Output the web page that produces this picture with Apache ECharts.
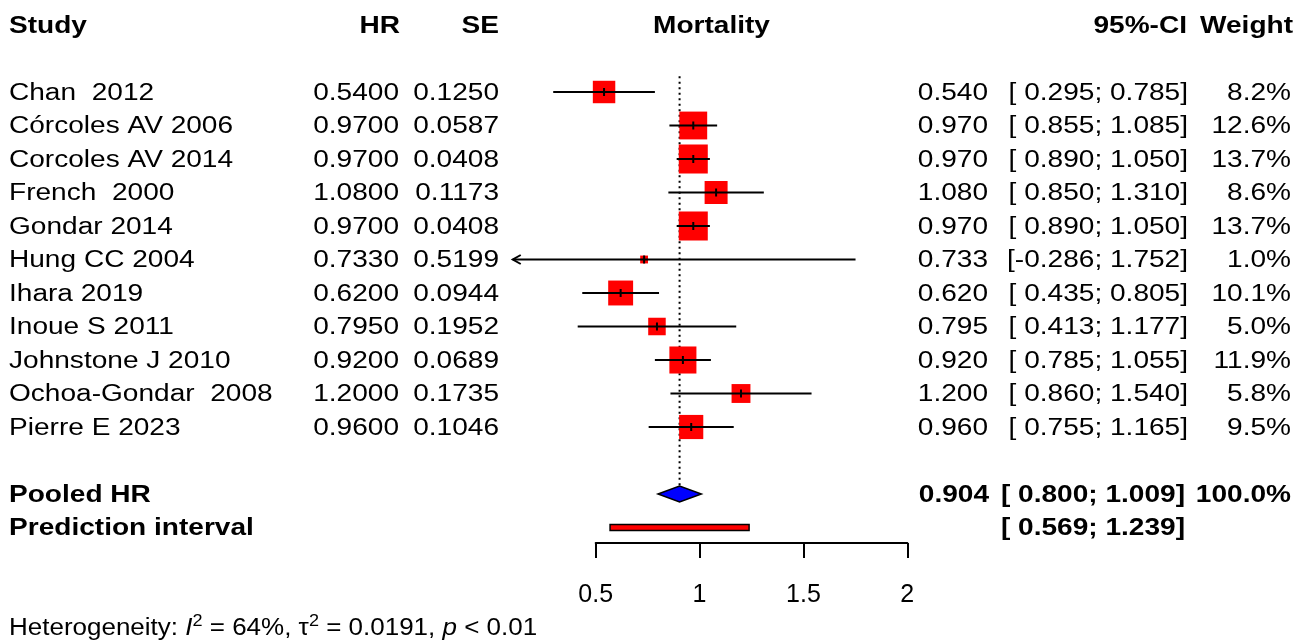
<!DOCTYPE html>
<html>
<head>
<meta charset="utf-8">
<title>Mortality forest plot</title>
<script src="https://cdn.jsdelivr.net/npm/echarts@6/dist/echarts.min.js"></script>
<style>
    html, body { margin: 0; padding: 0; background: #fff; }
    #forest { width: 1308px; height: 643px; }
</style>
</head>
<body>
<div id="forest"></div>
<script>
// study data
var studies = ['Chan  2012', 'Córcoles AV 2006', 'Corcoles AV 2014', 'French  2000', 'Gondar 2014',
    'Hung CC 2004', 'Ihara 2019', 'Inoue S 2011', 'Johnstone J 2010', 'Ochoa-Gondar  2008', 'Pierre E 2023'];
var hr = [0.54, 0.97, 0.97, 1.08, 0.97, 0.733, 0.62, 0.795, 0.92, 1.2, 0.96];
var se = [0.1250, 0.0587, 0.0408, 0.1173, 0.0408, 0.5199, 0.0944, 0.1952, 0.0689, 0.1735, 0.1046];
var ciLower = [0.295, 0.855, 0.890, 0.850, 0.890, -0.286, 0.435, 0.413, 0.785, 0.860, 0.755];
var ciUpper = [0.785, 1.085, 1.050, 1.310, 1.050, 1.752, 0.805, 1.177, 1.055, 1.540, 1.165];
var weights = [8.2, 12.6, 13.7, 8.6, 13.7, 1.0, 10.1, 5.0, 11.9, 5.8, 9.5];

// pooled estimate [est, lower, upper], prediction interval, total weight
var pooled = [0.904, 0.800, 1.009];
var predInterval = [0.569, 1.239];
var pooledWeight = 100.0;

// axis ticks
var xTicks = [0.5, 1, 1.5, 2];

var heteroI2 = '64%', heteroTau2 = '0.0191', heteroP = '0.01';

var FONT = "'Liberation Sans', Arial, Helvetica, sans-serif";
var SX = 1.22;        // text in the picture is a bit wider than plain Arial
var X_CLIP = 0.1;     // left limit of the plot region (arrow drawn there)
var ROW_POOLED = 12, ROW_PRED = 13;

function ciText(lo, hi) {
    return '[' + (lo < 0 ? '' : ' ') + lo.toFixed(3) + '; ' + hi.toFixed(3) + ']';
}

// table rows: [row, dy, cells]; cell = [x, text, align, bold]
var tableRows = [];
tableRows.push([-2, 2, [
    [9, 'Study', 'left', 1], [400, 'HR', 'right', 1], [499, 'SE', 'right', 1],
    [711.5, 'Mortality', 'center', 1], [1187, '95%-CI', 'right', 1], [1293, 'Weight', 'right', 1]
]]);
for (var i = 0; i < studies.length; i++) {
    tableRows.push([i, 1.5, [
        [9, studies[i], 'left', 0],
        [399, hr[i].toFixed(4), 'right', 0],
        [499, se[i].toFixed(4), 'right', 0],
        [988, hr[i].toFixed(3), 'right', 0],
        [1188, ciText(ciLower[i], ciUpper[i]), 'right', 0],
        [1291, weights[i].toFixed(1) + '%', 'right', 0]
    ]]);
}
tableRows.push([ROW_POOLED, 1.5, [
    [9, 'Pooled HR', 'left', 1],
    [989, pooled[0].toFixed(3), 'right', 1],
    [1185, ciText(pooled[1], pooled[2]), 'right', 1],
    [1291, pooledWeight.toFixed(1) + '%', 'right', 1]
]]);
tableRows.push([ROW_PRED, 1.5, [
    [9, 'Prediction interval', 'left', 1],
    [1185, ciText(predInterval[0], predInterval[1]), 'right', 1]
]]);

function txt(x, y, s, align, bold) {
    return {
        type: 'text', x: x, y: y, scaleX: SX,
        style: {
            text: s, fontSize: 23, fontFamily: FONT, fontWeight: bold ? 'bold' : 'normal',
            fill: '#000', align: align, verticalAlign: 'middle'
        }
    };
}

var dom = document.getElementById('forest');
var myChart = echarts.init(dom);
var option = null;

option = {
    animation: false,
    backgroundColor: '#fff',
    grid: [
        {left: 492, width: 518.75, top: 25, height: 603},
        {left: 595.7, width: 311.6, top: 533, height: 10}
    ],
    xAxis: [
        {gridIndex: 0, type: 'value', min: 0, max: 2.5, show: false},
        {
            gridIndex: 1, type: 'value', min: xTicks[0], max: xTicks[xTicks.length - 1], interval: 0.5,
            axisLine: {show: true, lineStyle: {color: '#000', width: 2}},
            axisTick: {show: true, length: 15, lineStyle: {color: '#000', width: 2}},
            axisLabel: {margin: 40, fontSize: 25, color: '#000', fontFamily: FONT},
            splitLine: {show: false}
        }
    ],
    yAxis: [
        {gridIndex: 0, type: 'value', min: -2, max: 16, inverse: true, show: false},
        {gridIndex: 1, type: 'value', show: false}
    ],
    series: [
        {
            // dotted line at pooled estimate
            type: 'custom', xAxisIndex: 0, yAxisIndex: 0,
            data: [[pooled[0], -0.47]],
            encode: {x: 0, y: 1},
            renderItem: function (params, api) {
                var a = api.coord([api.value(0), api.value(1)]);
                var b = api.coord([api.value(0), ROW_POOLED]);
                return {
                    type: 'line', shape: {x1: a[0], y1: a[1], x2: b[0], y2: b[1]},
                    style: {stroke: '#000', lineWidth: 2, lineDash: [2, 3.5]}
                };
            }
        },
        {
            // studies: square, CI line, centre tick
            type: 'custom', xAxisIndex: 0, yAxisIndex: 0,
            data: studies.map(function (s, i) {
                return [hr[i], i, ciLower[i], ciUpper[i], weights[i]];
            }),
            encode: {x: 0, y: 1},
            renderItem: function (params, api) {
                var est = api.value(0), row = api.value(1);
                var lo = api.value(2), hi = api.value(3), w = api.value(4);
                var c = api.coord([est, row]);
                var y = c[1];
                var xl = api.coord([Math.max(lo, X_CLIP), row])[0];
                var xh = api.coord([hi, row])[0];
                var side = 7.84 * Math.sqrt(w);
                var children = [
                    {type: 'rect', shape: {x: c[0] - side / 2, y: y - side / 2, width: side, height: side},
                        style: {fill: '#ff0000'}},
                    {type: 'line', shape: {x1: xl, y1: y, x2: xh, y2: y},
                        style: {stroke: '#000', lineWidth: 2}},
                    {type: 'line', shape: {x1: c[0], y1: y - 4, x2: c[0], y2: y + 4},
                        style: {stroke: '#000', lineWidth: 2}}
                ];
                if (lo < X_CLIP) {
                    children.push({
                        type: 'polyline', shape: {points: [[xl + 8, y - 4.5], [xl, y], [xl + 8, y + 4.5]]},
                        style: {stroke: '#000', fill: null, lineWidth: 2}
                    });
                }
                return {type: 'group', children: children};
            }
        },
        {
            // pooled diamond
            type: 'custom', xAxisIndex: 0, yAxisIndex: 0,
            data: [[pooled[0], ROW_POOLED, pooled[1], pooled[2]]],
            encode: {x: 0, y: 1},
            renderItem: function (params, api) {
                var c = api.coord([api.value(0), api.value(1)]);
                var l = api.coord([api.value(2), api.value(1)]);
                var r = api.coord([api.value(3), api.value(1)]);
                return {
                    type: 'polygon',
                    shape: {points: [[l[0], c[1]], [c[0], c[1] - 8], [r[0], c[1]], [c[0], c[1] + 8]]},
                    style: {fill: '#0000ff', stroke: '#000', lineWidth: 1.5}
                };
            }
        },
        {
            // prediction interval bar
            type: 'custom', xAxisIndex: 0, yAxisIndex: 0,
            data: [[predInterval[0], ROW_PRED, predInterval[1]]],
            encode: {x: 0, y: 1},
            renderItem: function (params, api) {
                var l = api.coord([api.value(0), api.value(1)]);
                var r = api.coord([api.value(2), api.value(1)]);
                return {
                    type: 'rect', shape: {x: l[0], y: l[1] - 3, width: r[0] - l[0], height: 6},
                    style: {fill: '#ff0000', stroke: '#000', lineWidth: 1.5}
                };
            }
        },
        {
            // table text
            type: 'custom', xAxisIndex: 0, yAxisIndex: 0,
            data: tableRows.map(function (r) { return [1, r[0]]; }),
            encode: {x: 0, y: 1},
            renderItem: function (params, api) {
                var r = tableRows[params.dataIndex];
                var y = api.coord([1, r[0]])[1] + r[1];
                return {
                    type: 'group',
                    children: r[2].map(function (c) { return txt(c[0], y, c[1], c[2], c[3]); })
                };
            }
        },
        {
            // heterogeneity line
            type: 'custom', xAxisIndex: 0, yAxisIndex: 0,
            data: [[1, 16]],
            encode: {x: 0, y: 1},
            renderItem: function (params, api) {
                var y = api.coord([1, api.value(1)])[1];
                return {
                    type: 'text', x: 9, y: y + 1, scaleX: 1.13,
                    style: {
                        text: '{n|Heterogeneity: }{i|I}{s|2}{n| = ' + heteroI2 + ', τ}{s|2}{n| = ' + heteroTau2 +
                            ', }{i|p}{n| < ' + heteroP + '}',
                        align: 'left', verticalAlign: 'middle',
                        rich: {
                            n: {fontSize: 23, fontFamily: FONT, fill: '#000', lineHeight: 30},
                            i: {fontSize: 23, fontFamily: FONT, fontStyle: 'italic', fill: '#000', lineHeight: 30},
                            s: {fontSize: 16, fontFamily: FONT, fill: '#000', lineHeight: 16, verticalAlign: 'top'}
                        }
                    }
                };
            }
        }
    ]
};

if (option && typeof option === "object") {
    myChart.setOption(option, true);
}
</script>
</body>
</html>
